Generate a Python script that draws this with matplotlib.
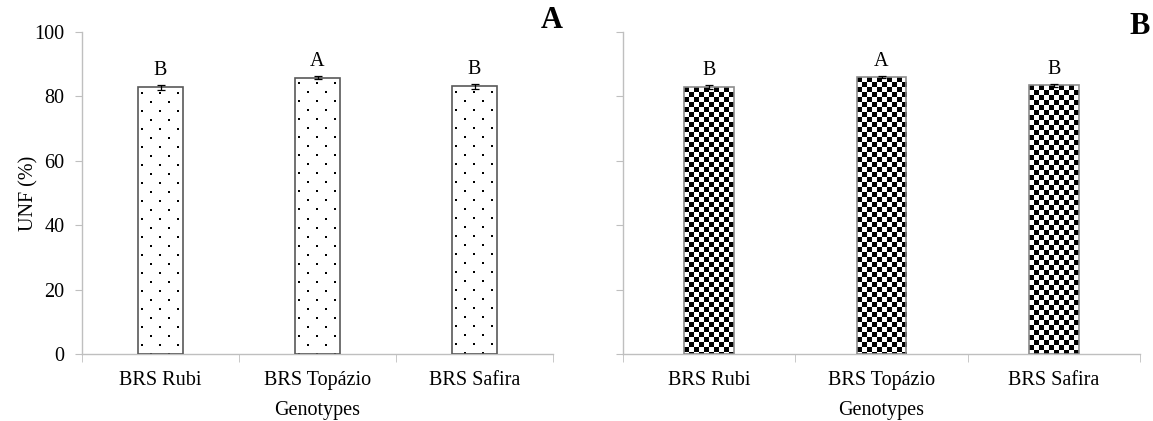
import numpy as np
import matplotlib
matplotlib.use("Agg")
import matplotlib.pyplot as plt

plt.rcParams['font.family'] = ['Liberation Serif', 'DejaVu Serif']

categories = ["BRS Rubi", "BRS Topázio", "BRS Safira"]
values_a = [82.8, 85.8, 83.1]
errors_a = [0.7, 0.5, 0.7]
values_b = [82.9, 85.9, 83.4]
errors_b = [0.5, 0.3, 0.4]
letters_a = ["B", "A", "B"]
letters_b = ["B", "A", "B"]
yticks = [0, 20, 40, 60, 80, 100]

GREY = "#bfbfbf"
FS = 14.5

fig = plt.figure(figsize=(11.53, 4.21), dpi=100)
axA = fig.add_axes([82/1153, 67/421, 471/1153, 322/421])
axB = fig.add_axes([623/1153, 67/421, 517/1153, 322/421])


def pattern_image(ax, bar, kind):
    t = ax.transData
    bx, by, bw, bh = bar.get_x(), bar.get_y(), bar.get_width(), bar.get_height()
    x0, y0 = t.transform((bx, by))
    x1, y1 = t.transform((bx + bw, by + bh))
    W = max(int(round(x1 - x0)), 1)
    H = max(int(round(y1 - y0)), 1)
    r = np.arange(H)[:, None]
    c = np.arange(W)[None, :]
    if kind == "checker":
        img = (((r // 5) + (c // 5)) % 2).astype(float)
    else:
        img = np.ones((H, W))
        rr = (r - 5) % 18
        cc_even = (c - 3) % 18
        cc_odd = (c - 12) % 18
        dot_even = (rr < 2) & (cc_even < 2)
        rr2 = (r - 14) % 18
        dot_odd = (rr2 < 2) & (cc_odd < 2)
        img[dot_even | dot_odd] = 0.0
    im = ax.imshow(img, cmap="gray", vmin=0, vmax=1, origin="upper",
                   extent=(bx, bx + bw, by, by + bh), interpolation="nearest",
                   aspect="auto", zorder=2)
    im.set_clip_path(bar)


def draw_panel(ax, vals, errs, letters, kind, edge, show_ylabels):
    x = np.arange(len(categories))
    ax.set_xlim(-0.5, len(categories) - 0.5)
    ax.set_ylim(0, 100)
    bars = ax.bar(x, vals, width=0.29, facecolor="white", edgecolor=edge,
                  linewidth=1.2, zorder=3)
    for b in bars:
        pattern_image(ax, b, kind)
        b.set_facecolor("none")
    ax.set_xlim(-0.5, len(categories) - 0.5)
    ax.set_ylim(0, 100)
    ax.errorbar(x, vals, yerr=errs, fmt="none", ecolor="black", capsize=3,
                elinewidth=0.9, capthick=0.9, zorder=4)
    for xi, v, e, l in zip(x, vals, errs, letters):
        ax.annotate(l, (xi, v + e), xytext=(0, 4), textcoords="offset points",
                    ha="center", va="bottom", fontsize=FS)
    for s in ["top", "right"]:
        ax.spines[s].set_visible(False)
    for s in ["left", "bottom"]:
        ax.spines[s].set_color(GREY)
        ax.spines[s].set_linewidth(1.0)
    ax.set_yticks(yticks)
    if show_ylabels:
        ax.set_yticklabels([str(v) for v in yticks], fontsize=FS)
    else:
        ax.set_yticklabels([])
    ax.tick_params(axis="y", length=5, color=GREY, direction="out", pad=7.5)
    ax.set_xticks(x)
    ax.set_xticklabels(categories, fontsize=FS)
    ax.tick_params(axis="x", which="major", length=0, pad=12)
    ax.set_xticks(np.arange(-0.5, len(categories)), minor=True)
    ax.tick_params(axis="x", which="minor", length=6, color=GREY, direction="out")
    ax.set_xlabel("Genotypes", fontsize=FS, labelpad=8)


draw_panel(axA, values_a, errors_a, letters_a, "dots", "#595959", True)
draw_panel(axB, values_b, errors_b, letters_b, "checker", "#8c8c8c", False)
axA.set_ylabel("UNF (%)", fontsize=FS)
axA.yaxis.set_label_coords(-0.093, 0.5)

fig.text(552/1153, 1 - 21/421, "A", fontsize=22, fontweight="bold",
         ha="center", va="center")
fig.text(1140/1153, 1 - 27/421, "B", fontsize=22, fontweight="bold",
         ha="center", va="center")

fig.savefig("out.png", dpi=100)
